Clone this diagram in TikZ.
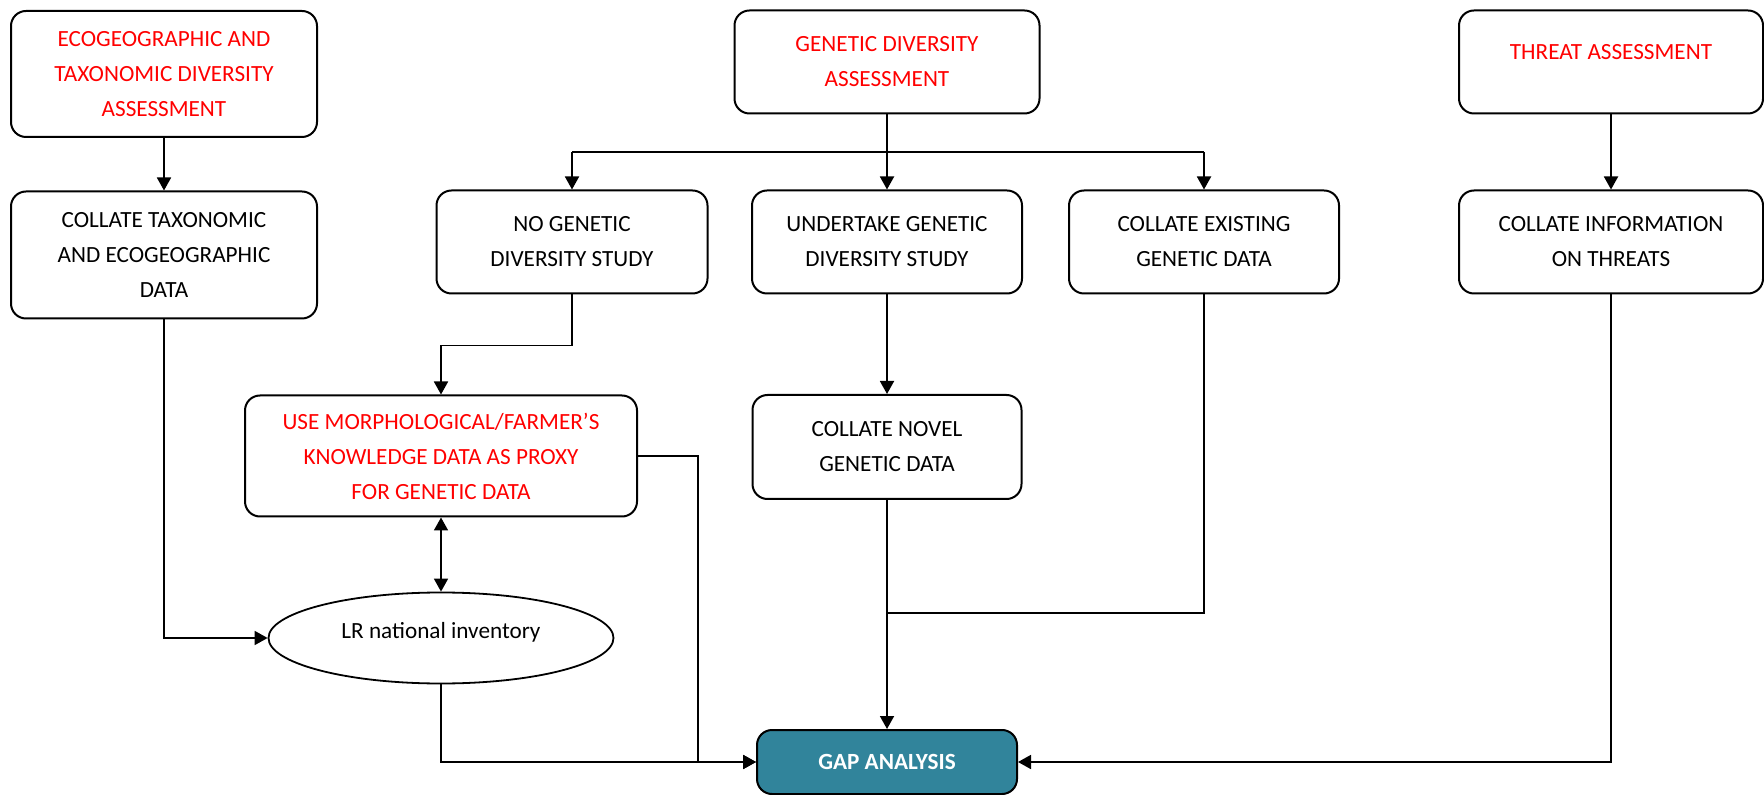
\documentclass[tikz,border=0pt]{standalone}
\usepackage{fontspec}
\setmainfont{Carlito}
\usetikzlibrary{arrows.meta,shapes.geometric}
\definecolor{gapteal}{HTML}{31849B}
\begin{document}
\begin{tikzpicture}[x=0.5pt,y=-0.5pt,
  font=\fontsize{11.6}{17.5}\selectfont,
  box/.style={draw,line width=1pt,rounded corners=7.5pt,align=center,inner sep=0pt},
  redtxt/.style={text=red},
  arr/.style={line width=0.9pt,-{Triangle[length=6.5pt,width=7pt]}},
  dblarr/.style={line width=0.9pt,{Triangle[length=6.5pt,width=7pt]}-{Triangle[length=6.5pt,width=7pt]}},
  plain/.style={line width=0.9pt}]
\useasboundingbox (0,0) rectangle (1764,795);

% top row
\node (eco) at (164,74) [box,redtxt,minimum width=153pt,minimum height=63pt] {ECOGEOGRAPHIC AND\\TAXONOMIC DIVERSITY\\ASSESSMENT};
\node (gen) at (887,62) [box,redtxt,minimum width=152.5pt,minimum height=51.5pt] {GENETIC DIVERSITY\\ASSESSMENT};
\node (threat) at (1611,62) [box,redtxt,minimum width=152pt,minimum height=51.5pt,text depth=10pt] {THREAT ASSESSMENT};

% second row
\node (tax) at (164,255) [box,minimum width=153pt,minimum height=63.5pt] {COLLATE TAXONOMIC\\AND ECOGEOGRAPHIC\\DATA};
\node (nogen) at (572,242) [box,minimum width=135.5pt,minimum height=51.5pt] {NO GENETIC\\DIVERSITY STUDY};
\node (undertake) at (887,242) [box,minimum width=135pt,minimum height=51.5pt] {UNDERTAKE GENETIC\\DIVERSITY STUDY};
\node (existing) at (1204,242) [box,minimum width=135pt,minimum height=51.5pt] {COLLATE EXISTING\\GENETIC DATA};
\node (info) at (1611,242) [box,minimum width=152pt,minimum height=51.5pt] {COLLATE INFORMATION\\ON THREATS};

% third row
\node (morph) at (441,456) [box,redtxt,minimum width=196pt,minimum height=60.5pt] {USE MORPHOLOGICAL/FARMER’S\\KNOWLEDGE DATA AS PROXY\\FOR GENETIC DATA};
\node (novel) at (887,447) [box,minimum width=134.5pt,minimum height=52pt] {COLLATE NOVEL\\GENETIC DATA};
\node (inv) at (441,638) [draw,ellipse,line width=0.9pt,minimum width=172.5pt,minimum height=45.5pt,inner sep=0pt,text depth=8pt] {LR national inventory};

% result
\node (gap) at (887,762) [box,fill=gapteal,text=white,font=\fontsize{11.6}{17.5}\selectfont\bfseries,minimum width=130pt,minimum height=32pt] {GAP ANALYSIS};

\coordinate (branch) at (887,152);
\coordinate (merge) at (887,613);

\draw [arr] (eco) -- (tax);
\draw [arr] (threat) -- (info);
\draw [plain] (gen) -- (branch);
\draw [plain] (branch) -- (nogen.north |- branch) (branch) -- (existing.north |- branch);
\draw [arr] (nogen.north |- branch) -- (nogen);
\draw [arr] (branch) -- (undertake);
\draw [arr] (existing.north |- branch) -- (existing);
\draw [arr] (nogen.south) -- ++(0,51) -| (morph.north);
\draw [arr] (undertake) -- (novel);
\draw [dblarr] (morph) -- (inv);
\draw [arr] (tax.south) |- (inv.west);
\draw [arr] (morph.east) -- ++(60,0) |- (gap.west);
\draw [arr] (inv.south) |- (gap.west);
\draw [arr] (novel) -- (gap);
\draw [plain] (existing.south) |- (merge);
\draw [arr] (info.south) |- (gap.east);

\end{tikzpicture}
\end{document}
